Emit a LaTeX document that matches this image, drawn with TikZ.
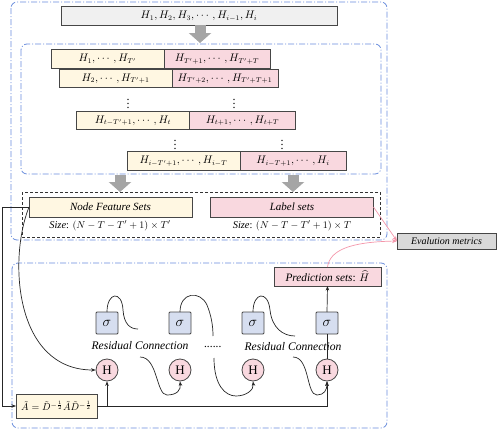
\documentclass[tikz,border=0pt]{standalone}
\usepackage{amsmath}
\usepackage{fontspec}
\setmainfont{Liberation Serif}
\usepackage{tikz}
\usetikzlibrary{arrows.meta, positioning}
\definecolor{featcol}{RGB}{255,247,226}
\definecolor{labcol}{RGB}{249,216,223}
\definecolor{sigcol}{RGB}{214,222,240}
\definecolor{seqcol}{RGB}{240,240,240}
\definecolor{evalcol}{RGB}{217,217,217}
\definecolor{boxline}{RGB}{70,70,70}
\definecolor{regioncol}{RGB}{105,140,220}
\definecolor{arrowgray}{RGB}{165,165,165}
\definecolor{pinkline}{RGB}{244,150,170}
\tikzset{
    every node/.style={font=\fontsize{10.5}{12}\selectfont},
    box/.style={rectangle, draw=boxline, line width=0.8pt, outer sep=0pt, inner sep=0pt, minimum height=18.5pt, text centered},
    seqbox/.style={box, fill=seqcol, minimum width=276pt},
    featbox/.style={box, fill=featcol, minimum width=113pt},
    labbox/.style={box, fill=labcol, minimum width=106pt},
    setbox/.style={box, minimum width=163pt, minimum height=20pt, font=\fontsize{11}{13}\selectfont\itshape},
    evalbox/.style={box, fill=evalcol, minimum width=99pt, minimum height=16pt, font=\fontsize{10}{12}\selectfont\itshape},
    predbox/.style={box, fill=labcol, minimum width=107pt, minimum height=19pt, font=\fontsize{11.3}{13}\selectfont\itshape},
    adjbox/.style={box, fill=featcol, minimum width=81pt, minimum height=24pt, font=\fontsize{10}{12}\selectfont},
    sigbox/.style={box, fill=sigcol, minimum width=22pt, minimum height=22pt, rounded corners=1pt, font=\fontsize{14}{16}\selectfont},
    hnode/.style={circle, draw=boxline, line width=0.8pt, fill=labcol, minimum size=22pt, inner sep=0pt, font=\fontsize{13}{15}\selectfont},
    sizetext/.style={font=\fontsize{10.4}{12}\selectfont},
    dotstext/.style={font=\fontsize{12}{14}\selectfont},
    restext/.style={font=\fontsize{11.6}{13}\selectfont\itshape},
    region/.style={draw=regioncol, line width=0.8pt, rounded corners=6pt, dash pattern=on 6pt off 2pt on 1pt off 2pt},
    setregion/.style={draw=black!80, line width=0.8pt, dash pattern=on 3pt off 2pt},
    bigarrow/.style={draw=arrowgray, line width=11pt, -{Triangle[width=22pt, length=10pt]}},
    line/.style={draw=black!85, line width=0.7pt},
    arrow/.style={line, -{Stealth[length=4.5pt, width=3.5pt]}},
    pinkarrow/.style={draw=pinkline, line width=0.7pt, -{Stealth[length=5pt, width=4pt]}}
}
\begin{document}
\begin{tikzpicture}[x=1pt, y=-1pt]
    \useasboundingbox (0,0) rectangle (498,431);
    % Regions
    \draw [region] (11,2) rectangle (387,240);
    \draw [region] (21,44) rectangle (381,174);
    \draw [setregion] (22,192) rectangle (380,237);
    \draw [region] (12,263) rectangle (387,428);
    % Input sequence
    \node (seq) [seqbox] at (199,16) {$H_1, H_2, H_3, \cdots, H_{i-1}, H_i$};
    % Sliding windows
    \node (f1) [featbox] at (107.5,59) {$H_1, \cdots, H_{T'}$};
    \node (l1) [labbox, right=0pt of f1] {$H_{T'+1}, \cdots, H_{T'+T}$};
    \node (f2) [featbox] at (115.5,78.5) {$H_2, \cdots, H_{T'+1}$};
    \node (l2) [labbox, right=0pt of f2] {$H_{T'+2}, \cdots, H_{T'+T+1}$};
    \node (fdots1) [dotstext] at (128,101) {$\boldsymbol{\vdots}$};
    \node (ldots1) [dotstext] at (234,101) {$\boldsymbol{\vdots}$};
    \node (f3) [featbox] at (133,120.5) {$H_{t-T'+1}, \cdots, H_t$};
    \node (l3) [labbox, right=0pt of f3] {$H_{t+1}, \cdots, H_{t+T}$};
    \node (fdots2) [dotstext] at (175,142) {$\boldsymbol{\vdots}$};
    \node (ldots2) [dotstext] at (282,142) {$\boldsymbol{\vdots}$};
    \node (f4) [featbox] at (183.5,161) {$H_{i-T'+1}, \cdots, H_{i-T}$};
    \node (l4) [labbox, right=0pt of f4] {$H_{i-T+1}, \cdots, H_i$};
    % Data sets
    \node (nfs) [setbox, fill=featcol] at (110.5,207) {Node Feature Sets};
    \node (lbs) [setbox, fill=labcol] at (292,207) {Label sets};
    \node (nfssize) [sizetext] at (110,226) {\itshape Size\upshape: $(N-T-T'+1)\times T'$};
    \node (lbssize) [sizetext] at (292,226) {\itshape Size\upshape: $(N-T-T'+1)\times T$};
    \node (eval) [evalbox] at (446.5,241) {Evalution metrics};
    % GCN layers
    \node (pred) [predbox] at (327.5,276.5) {Prediction sets\upshape: $\widehat{H}$};
    \foreach \i/\x in {1/107,2/180,3/253,4/327} {
        \node (s\i) [sigbox] at (\x,323) {$\sigma$};
        \node (h\i) [hnode] at (\x,370) {H};
    }
    \node (res1) [restext] at (140,346) {Residual Connection};
    \node (resdots) [restext] at (213,347) {......};
    \node (res2) [restext] at (293,347) {Residual Connection};
    \node (adj) [adjbox] at (56.5,406) {$\tilde{A} = \tilde{D}^{-\frac{1}{2}}\tilde{A}\tilde{D}^{-\frac{1}{2}}$};
    % Big arrows
    \coordinate (winTop) at (200,43);
    \coordinate (winBotF) at (120,175);
    \coordinate (winBotL) at (293,175);
    \coordinate (setTopF) at (120,192);
    \coordinate (setTopL) at (293,192);
    \draw [bigarrow] (seq.south -| winTop) -- (winTop);
    \draw [bigarrow] (winBotF) -- (setTopF);
    \draw [bigarrow] (winBotL) -- (setTopL);
    % Arrows
    \draw [arrow] (nfs.west) -- ++(-27,0) |- (adj.west);
    \draw [arrow] (nfs.west) .. controls (8,260) and (15,370) .. (h1.west);
    \draw [arrow] (adj.east) -| (h4.south);
    \draw [arrow] (adj.east -| h1) -- (h1.south);
    \draw [line] (h4.north) -- (s4.south);
    \draw [arrow] (s4.north) -- (pred.south);
    % Residual connections
    \coordinate (r1a) at (138,329);
    \coordinate (r1b) at (140,357);
    \coordinate (r2a) at (213,336);
    \coordinate (r2b) at (214,358);
    \coordinate (r3a) at (295,336);
    \coordinate (r3b) at (293,357);
    \draw [line] (s1.north) .. controls (107,292) and (122,290) .. (123,310) .. controls (124,324) and (130,329) .. (r1a);
    \draw [arrow] (r1b) .. controls (158,357) and (156,395) .. (167,395) .. controls (177,395) and (181,390) .. (h2.south);
    \draw [line] (s2.north) .. controls (180,292) and (200,290) .. (207,305) .. controls (211,315) and (213,325) .. (r2a);
    \draw [arrow] (r2b) .. controls (214,385) and (225,396) .. (236,396) .. controls (246,396) and (254,390) .. (h3.south);
    \draw [line] (s3.north) .. controls (253,292) and (268,290) .. (270,310) .. controls (272,328) and (283,336) .. (r3a);
    \draw [arrow] (r3b) .. controls (310,357) and (306,395) .. (317,395) .. controls (324,395) and (327,390) .. (h4.south);
    % Evaluation
    \draw [pinkarrow] (lbs.east) -- (eval.west);
    \draw [pinkarrow] (pred.north) .. controls (330,250) and (350,242) .. (eval.west);
\end{tikzpicture}
\end{document}
